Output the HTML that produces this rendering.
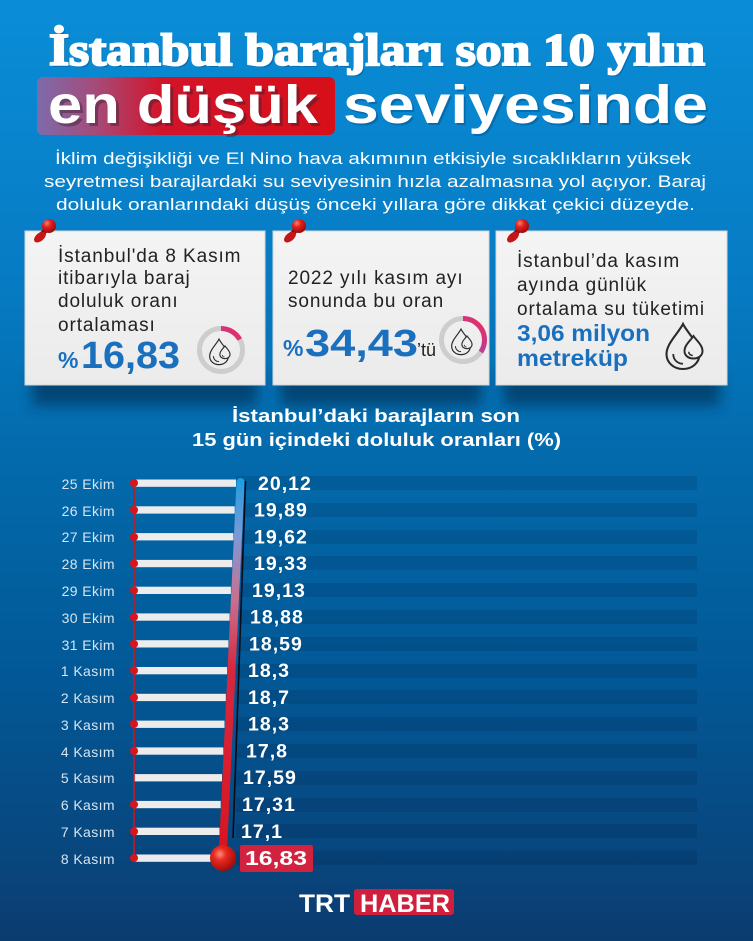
<!DOCTYPE html>
<html><head><meta charset="utf-8"><style>
html,body{margin:0;padding:0;background:#0a6ab0;}
svg{display:block}
</style></head><body>
<svg width="753" height="941" viewBox="0 0 753 941" xmlns="http://www.w3.org/2000/svg">
<defs>
<linearGradient id="bg" x1="0" y1="0" x2="0" y2="1">
 <stop offset="0" stop-color="#0a8dd7"/>
 <stop offset="0.3" stop-color="#067bc3"/>
 <stop offset="0.5" stop-color="#0369aa"/>
 <stop offset="0.72" stop-color="#025896"/>
 <stop offset="0.9" stop-color="#08477f"/>
 <stop offset="1" stop-color="#0b3c70"/>
</linearGradient>
<linearGradient id="redbox" x1="0" y1="0" x2="1" y2="0">
 <stop offset="0" stop-color="#7c6cab"/>
 <stop offset="0.2" stop-color="#a64a78"/>
 <stop offset="0.42" stop-color="#d2142a"/>
 <stop offset="1" stop-color="#d70f18"/>
</linearGradient>
<linearGradient id="tube" gradientUnits="userSpaceOnUse" x1="0" y1="478" x2="0" y2="858">
 <stop offset="0" stop-color="#1d9ce2"/>
 <stop offset="0.15" stop-color="#7c9ad6"/>
 <stop offset="0.32" stop-color="#c9708e"/>
 <stop offset="0.5" stop-color="#d7283f"/>
 <stop offset="1" stop-color="#d8141f"/>
</linearGradient>
<radialGradient id="ball" cx="0.38" cy="0.35" r="0.7">
 <stop offset="0" stop-color="#ff8a7a"/>
 <stop offset="0.35" stop-color="#e82a20"/>
 <stop offset="1" stop-color="#9a0a0a"/>
</radialGradient>
<radialGradient id="pinhead" cx="0.35" cy="0.3" r="0.75">
 <stop offset="0" stop-color="#ff7d70"/>
 <stop offset="0.4" stop-color="#e0201c"/>
 <stop offset="1" stop-color="#980808"/>
</radialGradient>
<linearGradient id="arc" x1="0" y1="0" x2="1" y2="1">
 <stop offset="0" stop-color="#6f5ff0"/>
 <stop offset="1" stop-color="#f02858"/>
</linearGradient>
<linearGradient id="card" x1="0" y1="0" x2="0" y2="1">
 <stop offset="0" stop-color="#f4f4f4"/>
 <stop offset="1" stop-color="#ebebeb"/>
</linearGradient>
<filter id="blur8" x="-20%" y="-50%" width="140%" height="200%"><feGaussianBlur stdDeviation="7"/></filter>
<g id="drop">
 <path d="M0,-14 C3,-8 11,-1 11,6 C11,12 6,16 0,16 C-6,16 -11,12 -11,6 C-11,-1 -3,-8 0,-14 Z" fill="none" stroke="#2a2a2a" stroke-width="1.4"/>
 <path d="M-6.5,6 C-6.5,10 -3.5,12.5 0,12.5" fill="none" stroke="#2a2a2a" stroke-width="1.2"/>
 <path d="M7,-6 C9,-3 13,0 13,4 C13,7 10.5,9 7,9 C3.5,9 1,7 1,4 C1,0 5,-3 7,-6 Z" fill="#efefef" stroke="#2a2a2a" stroke-width="1.3"/>
 <path d="M3.8,4.5 C3.8,6 5,7 6.5,7" fill="none" stroke="#2a2a2a" stroke-width="1"/>
</g>
<g id="pin">
 <path d="M-8,10 L3,-1" stroke="#7a0606" stroke-width="5" stroke-linecap="round"/>
 <ellipse cx="-6" cy="9" rx="7" ry="4" transform="rotate(-40 -6 9)" fill="#c41616"/>
 <circle cx="3" cy="-2" r="7" fill="url(#pinhead)"/>
</g>
</defs>

<rect x="0" y="0" width="753" height="941" fill="url(#bg)"/>

<!-- Title -->
<text x="51" y="67" textLength="656" lengthAdjust="spacingAndGlyphs" font-family="Liberation Serif, serif" font-weight="bold" font-size="45" fill="#00335f" opacity="0.3">İstanbul barajları son 10 yılın</text>
<text x="49" y="65" textLength="656" lengthAdjust="spacingAndGlyphs" font-family="Liberation Serif, serif" font-weight="bold" font-size="45" fill="#fff" stroke="#fff" stroke-width="2">İstanbul barajları son 10 yılın</text>

<rect x="37" y="77" width="298" height="58" rx="6" fill="url(#redbox)"/>
<text x="51" y="126" textLength="270" lengthAdjust="spacingAndGlyphs" font-family="Liberation Sans, sans-serif" font-weight="bold" font-size="54" fill="#3a2030" opacity="0.45">en düşük</text>
<text x="48" y="123" textLength="270" lengthAdjust="spacingAndGlyphs" font-family="Liberation Sans, sans-serif" font-weight="bold" font-size="54" fill="#fff">en düşük</text>
<text x="345" y="125" textLength="365" lengthAdjust="spacingAndGlyphs" font-family="Liberation Sans, sans-serif" font-weight="bold" font-size="54" fill="#00335f" opacity="0.3">seviyesinde</text>
<text x="343" y="123" textLength="365" lengthAdjust="spacingAndGlyphs" font-family="Liberation Sans, sans-serif" font-weight="bold" font-size="54" fill="#fff">seviyesinde</text>

<!-- Paragraph -->
<g font-family="Liberation Sans, sans-serif" font-size="17" fill="#fff">
<text x="55" y="164" textLength="636" lengthAdjust="spacingAndGlyphs">İklim değişikliği ve El Nino hava akımının etkisiyle sıcaklıkların yüksek</text>
<text x="44" y="187" textLength="662" lengthAdjust="spacingAndGlyphs">seyretmesi barajlardaki su seviyesinin hızla azalmasına yol açıyor. Baraj</text>
<text x="56" y="210" textLength="639" lengthAdjust="spacingAndGlyphs">doluluk oranlarındaki düşüş önceki yıllara göre dikkat çekici düzeyde.</text>
</g>

<!-- Card shadows -->
<rect x="32" y="372" width="226" height="34" fill="#00203f" opacity="0.55" filter="url(#blur8)"/>
<rect x="280" y="372" width="202" height="34" fill="#00203f" opacity="0.55" filter="url(#blur8)"/>
<rect x="503" y="372" width="217" height="34" fill="#00203f" opacity="0.55" filter="url(#blur8)"/>

<!-- Cards -->
<rect x="25" y="231" width="240" height="154" fill="url(#card)" stroke="#d6d6d6" stroke-width="1"/>
<rect x="273" y="231" width="216" height="154" fill="url(#card)" stroke="#d6d6d6" stroke-width="1"/>
<rect x="496" y="231" width="231" height="154" fill="url(#card)" stroke="#d6d6d6" stroke-width="1"/>

<!-- Card 1 -->
<g font-family="Liberation Sans, sans-serif" font-size="19" fill="#222" letter-spacing="0.9">
<text x="58" y="262">İstanbul'da 8 Kasım</text>
<text x="58" y="284">itibarıyla baraj</text>
<text x="58" y="307">doluluk oranı</text>
<text x="58" y="331">ortalaması</text>
</g>
<text x="58" y="368" font-family="Liberation Sans, sans-serif" font-weight="bold" font-size="23" fill="#1a70bf">%</text>
<text x="81" y="368" textLength="99" lengthAdjust="spacingAndGlyphs" font-family="Liberation Sans, sans-serif" font-weight="bold" font-size="38" fill="#1a70bf">16,83</text>
<circle cx="221" cy="350" r="21.5" fill="none" stroke="#cdcdcd" stroke-width="5"/>
<circle cx="221" cy="350" r="21.5" fill="none" stroke="url(#arc)" stroke-width="5" stroke-dasharray="22.7 200" transform="rotate(-90 221 350)"/>
<use href="#drop" transform="translate(219 351) scale(0.85)"/>

<!-- Card 2 -->
<g font-family="Liberation Sans, sans-serif" font-size="19" fill="#222" letter-spacing="0.9">
<text x="288" y="284">2022 yılı kasım ayı</text>
<text x="288" y="307">sonunda bu oran</text>
</g>
<text x="283" y="356" font-family="Liberation Sans, sans-serif" font-weight="bold" font-size="23" fill="#1a70bf">%</text>
<text x="305" y="356" textLength="113" lengthAdjust="spacingAndGlyphs" font-family="Liberation Sans, sans-serif" font-weight="bold" font-size="38" fill="#1a70bf">34,43</text>
<text x="417" y="356" font-family="Liberation Sans, sans-serif" font-size="18" fill="#222">’tü</text>
<circle cx="463" cy="340" r="21.5" fill="none" stroke="#cdcdcd" stroke-width="5"/>
<circle cx="463" cy="340" r="21.5" fill="none" stroke="url(#arc)" stroke-width="5" stroke-dasharray="46.5 200" transform="rotate(-90 463 340)"/>
<use href="#drop" transform="translate(461 341) scale(0.85)"/>

<!-- Card 3 -->
<g font-family="Liberation Sans, sans-serif" font-size="19" fill="#222" letter-spacing="0.9">
<text x="517" y="267">İstanbul’da kasım</text>
<text x="517" y="291">ayında günlük</text>
<text x="517" y="315">ortalama su tüketimi</text>
</g>
<text x="517" y="341" textLength="133" lengthAdjust="spacingAndGlyphs" font-family="Liberation Sans, sans-serif" font-weight="bold" font-size="23" fill="#1a70bf">3,06 milyon</text>
<text x="517" y="366" textLength="111" lengthAdjust="spacingAndGlyphs" font-family="Liberation Sans, sans-serif" font-weight="bold" font-size="23" fill="#1a70bf">metreküp</text>
<use href="#drop" transform="translate(683 345) scale(1.5)"/>

<!-- Pins -->
<use href="#pin" transform="translate(46 228)"/>
<use href="#pin" transform="translate(296 228)"/>
<use href="#pin" transform="translate(519 228)"/>

<!-- Chart title -->
<g font-family="Liberation Sans, sans-serif" font-weight="bold" font-size="18.5" fill="#fff">
<text x="232" y="422" textLength="288" lengthAdjust="spacingAndGlyphs">İstanbul’daki barajların son</text>
<text x="192" y="446" textLength="369" lengthAdjust="spacingAndGlyphs">15 gün içindeki doluluk oranları (%)</text>
</g>

<!-- Stripe bands -->
<g fill="#00183a" opacity="0.14">
<rect x="236" y="476" width="461" height="14"/>
<rect x="236" y="503" width="461" height="14"/>
<rect x="236" y="530" width="461" height="14"/>
<rect x="236" y="556" width="461" height="14"/>
<rect x="236" y="583" width="461" height="14"/>
<rect x="236" y="610" width="461" height="14"/>
<rect x="236" y="637" width="461" height="14"/>
<rect x="236" y="664" width="461" height="14"/>
<rect x="236" y="690" width="461" height="14"/>
<rect x="236" y="717" width="461" height="14"/>
<rect x="236" y="744" width="461" height="14"/>
<rect x="236" y="771" width="461" height="14"/>
<rect x="236" y="798" width="461" height="14"/>
<rect x="236" y="824" width="461" height="14"/>
<rect x="236" y="851" width="461" height="14"/>
</g>

<!-- Labels -->
<g font-family="Liberation Sans, sans-serif" font-size="14" fill="#d6e4f0" text-anchor="end" letter-spacing="0.4">
<text x="115" y="489">25 Ekim</text>
<text x="115" y="516">26 Ekim</text>
<text x="115" y="542">27 Ekim</text>
<text x="115" y="569">28 Ekim</text>
<text x="115" y="596">29 Ekim</text>
<text x="115" y="623">30 Ekim</text>
<text x="115" y="650">31 Ekim</text>
<text x="115" y="676">1 Kasım</text>
<text x="115" y="703">2 Kasım</text>
<text x="115" y="730">3 Kasım</text>
<text x="115" y="757">4 Kasım</text>
<text x="115" y="783">5 Kasım</text>
<text x="115" y="810">6 Kasım</text>
<text x="115" y="837">7 Kasım</text>
<text x="115" y="864">8 Kasım</text>
</g>

<!-- Bars -->
<g fill="#ececec">
<rect x="134" y="479.5" width="102" height="7.3"/>
<rect x="134" y="506.3" width="100.7" height="7.3"/>
<rect x="134" y="533.1" width="99.4" height="7.3"/>
<rect x="134" y="559.9" width="98.2" height="7.3"/>
<rect x="134" y="586.7" width="96.9" height="7.3"/>
<rect x="134" y="613.4" width="95.6" height="7.3"/>
<rect x="134" y="640.2" width="94.4" height="7.3"/>
<rect x="134" y="667" width="93.1" height="7.3"/>
<rect x="134" y="693.8" width="91.8" height="7.3"/>
<rect x="134" y="720.6" width="90.5" height="7.3"/>
<rect x="134" y="747.4" width="89.3" height="7.3"/>
<rect x="134" y="774.1" width="88" height="7.3"/>
<rect x="134" y="800.9" width="86.7" height="7.3"/>
<rect x="134" y="827.7" width="85.5" height="7.3"/>
<rect x="134" y="854.5" width="84" height="7.3"/>
</g>

<!-- red axis line and dots -->
<line x1="134" y1="483" x2="134" y2="858" stroke="#d0141c" stroke-width="1.6"/>
<g fill="#d8141c">
<circle cx="134" cy="483" r="4"/>
<circle cx="134" cy="510" r="4"/>
<circle cx="134" cy="537" r="4"/>
<circle cx="134" cy="563.5" r="4"/>
<circle cx="134" cy="590.5" r="4"/>
<circle cx="134" cy="617" r="4"/>
<circle cx="134" cy="644" r="4"/>
<circle cx="134" cy="670.5" r="4"/>
<circle cx="134" cy="697.5" r="4"/>
<circle cx="134" cy="724" r="4"/>
<circle cx="134" cy="751" r="4"/>
<circle cx="134" cy="804.5" r="4"/>
<circle cx="134" cy="831.5" r="4"/>
<circle cx="134" cy="858" r="4"/>
</g>

<!-- Thermometer -->
<line x1="245.5" y1="481" x2="233" y2="838" stroke="#0a0a18" stroke-width="1.6"/>
<line x1="240.5" y1="482" x2="223" y2="850" stroke="url(#tube)" stroke-width="8" stroke-linecap="round"/>
<circle cx="223" cy="858" r="13" fill="url(#ball)"/>

<!-- Values -->
<g font-family="Liberation Sans, sans-serif" font-weight="bold" font-size="19.5" fill="#fff" letter-spacing="1">
<text x="258" y="490">20,12</text>
<text x="254" y="516.5">19,89</text>
<text x="254" y="543.5">19,62</text>
<text x="254" y="570">19,33</text>
<text x="252" y="597">19,13</text>
<text x="250" y="623.5">18,88</text>
<text x="249" y="650.5">18,59</text>
<text x="248" y="677">18,3</text>
<text x="248" y="704">18,7</text>
<text x="248" y="730.5">18,3</text>
<text x="246" y="757.5">17,8</text>
<text x="243" y="784">17,59</text>
<text x="242" y="811">17,31</text>
<text x="241" y="838">17,1</text>
</g>
<rect x="240" y="845" width="73" height="27" rx="2" fill="#d12240"/>
<text x="245" y="865" textLength="62" lengthAdjust="spacingAndGlyphs" font-family="Liberation Sans, sans-serif" font-weight="bold" font-size="20" fill="#fff">16,83</text>

<!-- Logo -->
<text x="299" y="912" textLength="51" lengthAdjust="spacingAndGlyphs" font-family="Liberation Sans, sans-serif" font-weight="bold" font-size="25" fill="#fff">TRT</text>
<rect x="354" y="889" width="100" height="26" rx="3" fill="#d01f3c"/>
<text x="360" y="912" textLength="90" lengthAdjust="spacingAndGlyphs" font-family="Liberation Sans, sans-serif" font-weight="bold" font-size="25" fill="#fff">HABER</text>
</svg>
</body></html>
